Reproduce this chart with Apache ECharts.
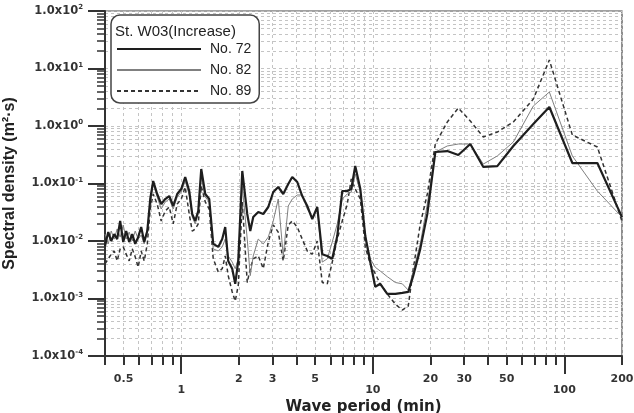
<!DOCTYPE html>
<html>
<head>
<meta charset="utf-8">
<script src="https://cdn.jsdelivr.net/npm/echarts@6/dist/echarts.min.js"></script>
<style>
html, body { margin: 0; padding: 0; background: #fff; }
#chart { width: 634px; height: 413px; }
</style>
</head>
<body>
<div id="chart"></div>
<script>
// wave period (min), shared by the three records
const periods = [
  0.40, 0.416, 0.431, 0.447, 0.463, 0.480, 0.498, 0.516, 0.535, 0.555, 0.575, 0.596, 0.618, 0.641, 0.665,
  0.689, 0.714, 0.749, 0.786, 0.825, 0.866, 0.908, 0.953, 1.00, 1.049, 1.101, 1.141, 1.183, 1.227, 1.272,
  1.335, 1.400, 1.469, 1.561, 1.637, 1.697, 1.759, 1.846, 1.914, 1.985, 2.083, 2.211, 2.293, 2.377, 2.524,
  2.681, 2.847, 3.023, 3.210, 3.409, 3.620, 3.798, 4.034, 4.283, 4.550, 4.831, 5.131, 5.449, 5.786, 6.144,
  6.525, 6.929, 7.358,
  7.72, 8.10, 8.61, 9.14, 9.70, 10.30, 10.94, 11.90, 13.11, 14.26, 15.32, 16.27, 17.70, 19.26,
  21.21, 24.49, 27.96, 32.29, 37.76, 44.68, 54.17, 68.88, 83.51, 110.1, 148.7, 200
];

// spectral density (m^2 s)
const no72 = [
  0.0082, 0.0143, 0.0100, 0.0132, 0.0108, 0.0223, 0.0096, 0.0149, 0.0096, 0.0132, 0.0089, 0.0117, 0.0175, 0.0096, 0.0149,
  0.0537, 0.1105, 0.0657, 0.0440, 0.0537, 0.0606, 0.0406, 0.0657, 0.0802, 0.1297, 0.0741, 0.0295, 0.0223, 0.0332, 0.1788,
  0.0657, 0.0537, 0.0089, 0.0079, 0.0108, 0.0175, 0.0045, 0.0033, 0.0018, 0.0045, 0.1650, 0.0295, 0.0149, 0.0262, 0.0319,
  0.0295, 0.0390, 0.0712, 0.0869, 0.0657, 0.0980, 0.1297, 0.1062, 0.0606, 0.0406, 0.0241, 0.0390, 0.0059, 0.0055, 0.0049,
  0.0122, 0.0741, 0.0741,
  0.0802, 0.2014, 0.0802, 0.0122, 0.0043, 0.0016, 0.0018, 0.0012, 0.0012, 0.00125, 0.0013, 0.0025, 0.0073, 0.0295,
  0.353, 0.367, 0.313, 0.486, 0.194, 0.201, 0.449, 1.083, 2.14, 0.227, 0.227, 0.026
];
const no82 = [
  0.0132, 0.0089, 0.0149, 0.0108, 0.0162, 0.0117, 0.0190, 0.0108, 0.0143, 0.0100, 0.0149, 0.0108, 0.0127, 0.0089, 0.0162,
  0.0440, 0.0980, 0.0582, 0.0360, 0.0477, 0.0537, 0.0360, 0.0582, 0.0712, 0.1105, 0.0631, 0.0262, 0.0198, 0.0295, 0.1297,
  0.0582, 0.0477, 0.0073, 0.0067, 0.0079, 0.0108, 0.0055, 0.0043, 0.0033, 0.0049, 0.0905, 0.0108, 0.0025, 0.0055, 0.0108,
  0.0089, 0.0117, 0.0223, 0.0537, 0.0055, 0.0406, 0.0537, 0.0631, 0.0631, 0.0360, 0.0262, 0.0360, 0.0043, 0.0049, 0.0096,
  0.0198, 0.0537, 0.0657,
  0.0712, 0.1463, 0.0712, 0.0122, 0.0049, 0.0035, 0.0030, 0.0024, 0.0019, 0.0018, 0.0014, 0.0030, 0.0089, 0.0440,
  0.353, 0.449, 0.486, 0.486, 0.218, 0.301, 0.527, 2.227, 3.90, 0.301, 0.074, 0.026
];
const no89 = [
  0.0040, 0.0049, 0.0059, 0.0067, 0.0045, 0.0073, 0.0079, 0.0059, 0.0045, 0.0073, 0.0053, 0.0035, 0.0067, 0.0045, 0.0089,
  0.0360, 0.0657, 0.0440, 0.0223, 0.0332, 0.0390, 0.0198, 0.0440, 0.0537, 0.0869, 0.0295, 0.0149, 0.0162, 0.0198, 0.0905,
  0.0477, 0.0360, 0.0049, 0.0029, 0.0033, 0.0055, 0.0025, 0.0013, 0.0009, 0.0017, 0.0477, 0.0019, 0.0033, 0.0049, 0.0055,
  0.0033, 0.0096, 0.0190, 0.0143, 0.0045, 0.0190, 0.0223, 0.0175, 0.0108, 0.0067, 0.0059, 0.0100, 0.0019, 0.0018, 0.0043,
  0.0108, 0.0223, 0.0440,
  0.1198, 0.0802, 0.0537, 0.0079, 0.0040, 0.0027, 0.0018, 0.0012, 0.0008, 0.00063, 0.00074, 0.0033, 0.0198, 0.0657,
  0.486, 1.174, 2.056, 1.222, 0.644, 0.786, 1.174, 2.949, 14.05, 0.697, 0.431, 0.022
];

// axis ticks
const minorXTicks = [0.4, 0.5, 0.6, 0.7, 0.8, 0.9, 2, 3, 4, 5, 6, 7, 8, 9, 20, 30, 40, 50, 60, 70, 80, 90, 200];
const minorXLabels = [0.5, 2, 3, 5, 20, 30, 50, 200];
const majorXTicks = [1, 10, 100];
const decadesY = [1e-4, 1e-3, 1e-2, 1e-1, 1, 10, 100];
const minorYTicks = [];
decadesY.slice(0, -1).forEach(d => {
  for (let k = 2; k <= 9; k++) minorYTicks.push(+(d * k).toPrecision(3));
});

const FONT = '"Liberation Sans", Arial, sans-serif';
const WIDE = '"DejaVu Sans", sans-serif';
const gridLine = { show: true, lineStyle: { color: '#c4c4c4', type: [3, 3], width: 1 } };
const toPairs = vals => periods.map((p, i) => [p, vals[i]]);
const tickLabel = { fontFamily: WIDE, fontSize: 11, fontWeight: 'bold', color: '#333' };

const chart = echarts.init(document.getElementById('chart'));
chart.setOption({
  backgroundColor: '#fff',
  animation: false,
  textStyle: { fontFamily: FONT },
  grid: {
    left: 105, right: 12, top: 11, bottom: 57,
    show: true, borderColor: '#444', borderWidth: 1.2,
    containLabel: false, outerBoundsMode: 'none'
  },
  title: {
    text: 'St. W03(Increase)',
    left: 115, top: 24, padding: 0, z: 10,
    textStyle: { fontFamily: FONT, fontSize: 15, fontWeight: 'normal', color: '#222' }
  },
  legend: {
    data: ['No. 72', 'No. 82', 'No. 89'],
    orient: 'vertical',
    left: 111, top: 15,
    padding: [27, 8, 5, 5],
    itemWidth: 84, itemHeight: 14, itemGap: 7,
    itemStyle: { opacity: 0 },
    backgroundColor: '#fff',
    borderColor: '#444', borderWidth: 1.5, borderRadius: 9,
    textStyle: { fontFamily: FONT, fontSize: 14, color: '#222', padding: [0, 0, 0, 4] }
  },
  xAxis: [
    {
      type: 'log', logBase: 10, min: 0.4, max: 200,
      name: 'Wave period (min)', nameLocation: 'middle', nameGap: 44,
      nameTextStyle: { fontFamily: WIDE, fontSize: 15, fontWeight: 'bold', color: '#222' },
      axisLine: { show: true, lineStyle: { color: '#333', width: 2 } },
      axisTick: { show: true, customValues: minorXTicks, length: 9, lineStyle: { color: '#333', width: 2 } },
      axisLabel: Object.assign({
        customValues: minorXLabels, margin: 18,
        formatter: v => String(+(+v).toPrecision(3))
      }, tickLabel),
      splitLine: gridLine
    },
    {
      type: 'log', logBase: 10, min: 0.4, max: 200, position: 'bottom',
      axisLine: { show: false },
      axisTick: { show: true, customValues: majorXTicks, length: 18, lineStyle: { color: '#333', width: 2 } },
      axisLabel: Object.assign({
        customValues: majorXTicks, margin: 29,
        formatter: v => String(+(+v).toPrecision(3))
      }, tickLabel),
      splitLine: gridLine
    }
  ],
  yAxis: [
    {
      type: 'log', logBase: 10, min: 1e-4, max: 100, position: 'left',
      axisLine: { show: true, lineStyle: { color: '#333', width: 2 } },
      axisTick: { show: true, customValues: minorYTicks, length: 8, lineStyle: { color: '#333', width: 1.5 } },
      axisLabel: { show: false },
      splitLine: gridLine
    },
    {
      type: 'log', logBase: 10, min: 1e-4, max: 100, position: 'left',
      name: 'Spectral density (m²·s)', nameLocation: 'middle', nameGap: 87,
      nameTextStyle: { fontFamily: FONT, fontSize: 16, fontWeight: 'bold', color: '#222' },
      axisLine: { show: false },
      axisTick: { show: true, customValues: decadesY, length: 17, lineStyle: { color: '#333', width: 2 } },
      axisLabel: {
        customValues: decadesY, margin: 22,
        formatter: v => '{b|1.0x10}{s|' + Math.round(Math.log10(v)) + '}',
        rich: {
          b: { fontFamily: WIDE, fontSize: 11.5, fontWeight: 'bold', color: '#333' },
          s: { fontFamily: WIDE, fontSize: 7, fontWeight: 'bold', color: '#333', padding: [0, 0, 7, 0] }
        }
      },
      splitLine: gridLine
    }
  ],
  series: [
    {
      name: 'No. 72', type: 'line', symbol: 'none', data: toPairs(no72),
      lineStyle: { color: '#1e1e1e', width: 2.2 }, itemStyle: { color: '#1e1e1e' }, z: 4
    },
    {
      name: 'No. 82', type: 'line', symbol: 'none', data: toPairs(no82),
      lineStyle: { color: '#808080', width: 1 }, itemStyle: { color: '#808080' }, z: 3
    },
    {
      name: 'No. 89', type: 'line', symbol: 'none', data: toPairs(no89),
      lineStyle: { color: '#333', width: 1.5, type: [4, 3] }, itemStyle: { color: '#333' }, z: 2
    }
  ]
});
</script>
</body>
</html>
